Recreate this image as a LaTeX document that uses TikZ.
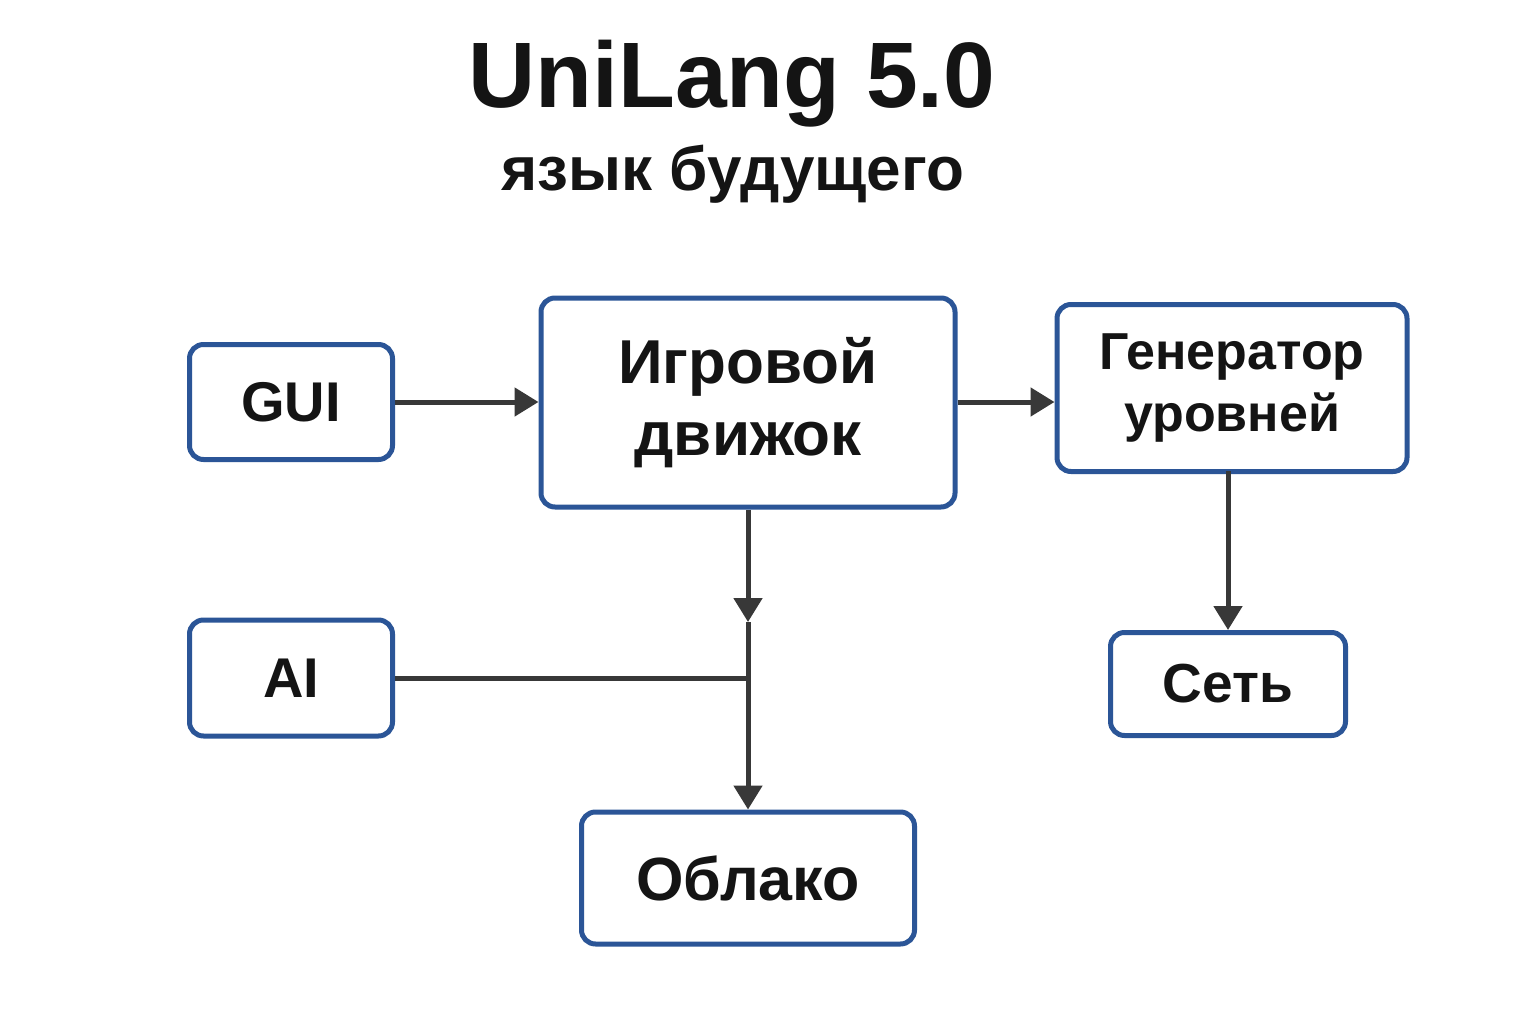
\documentclass[tikz,border=0pt]{standalone}
\usepackage{fontspec}
\setmainfont{Liberation Sans}
\usetikzlibrary{arrows.meta}
\definecolor{boxblue}{HTML}{2B5597}
\definecolor{arrgray}{HTML}{383838}
\definecolor{txt}{HTML}{141414}
\begin{document}
\begin{tikzpicture}[x=1pt,y=-1pt,
  box/.style={draw=boxblue, line width=5pt, rounded corners=14pt, fill=white, align=center, text=txt, font=\bfseries, inner sep=0pt},
  conn/.style={draw=arrgray, line width=5pt},
  arr/.style={conn, -{Triangle[length=24pt,width=28pt]}}]
\useasboundingbox (0,0) rectangle (1536,1024);
\fill[white] (0,0) rectangle (1536,1024);
\node[text=txt, font=\bfseries\fontsize{93}{100}\selectfont] (title) at (732,84) {UniLang 5.0};
\node[text=txt, font=\bfseries\fontsize{62}{66}\selectfont] (sub) at (733,174) {язык будущего};

\node[box, minimum width=203pt, minimum height=115pt, font=\bfseries\fontsize{56}{60}\selectfont] (gui) at (291,402) {GUI};
\node[box, minimum width=414pt, minimum height=209pt, font=\bfseries\fontsize{62}{72}\selectfont] (eng) at (748,402.5) {Игровой\\движок};
\node[box, minimum width=350pt, minimum height=167pt, font=\bfseries\fontsize{52}{62}\selectfont] (gen) at (1232,388) {Генератор\\уровней};
\node[box, minimum width=203pt, minimum height=116pt, font=\bfseries\fontsize{56}{60}\selectfont] (ai) at (291,678) {AI};
\node[box, minimum width=235pt, minimum height=103pt, font=\bfseries\fontsize{55}{60}\selectfont] (net) at (1228,684) {Сеть};
\node[box, minimum width=333pt, minimum height=132pt, font=\bfseries\fontsize{61}{64}\selectfont] (cloud) at (748,878) {Облако};

\coordinate (m1) at (748,622);
\draw[arr] (gui.east) -- (eng.west |- gui.east);
\draw[arr] (eng.east |- gui.east) -- (gen.west |- gui.east);
\draw[arr] (1228,471) coordinate (gs) -- (gs |- net.north);
\draw[arr] (eng.south) -- (m1);
\draw[arr] (m1) -- (cloud.north);
\draw[conn] (ai.east) -- (ai.east -| cloud.north);
\end{tikzpicture}
\end{document}
